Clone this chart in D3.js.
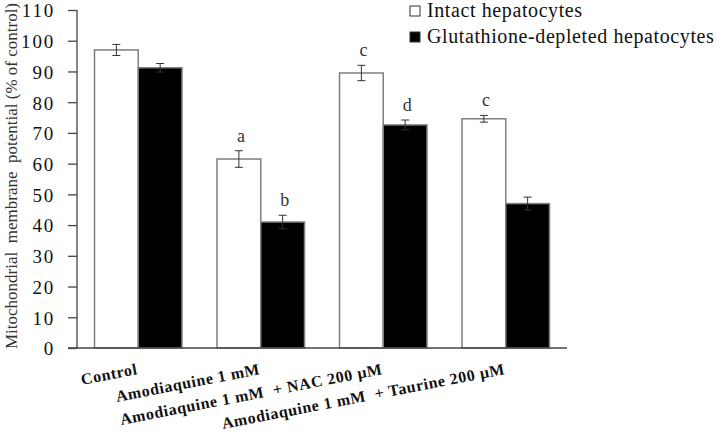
<!DOCTYPE html>
<html>
<head>
<meta charset="utf-8">
<script src="https://cdn.jsdelivr.net/npm/d3@7"></script>
<style>
body { margin: 0; background: #fff; }
</style>
</head>
<body>
<div id="chart"></div>
<script>
var categories = ["Control", "Amodiaquine 1 mM", "Amodiaquine 1 mM  + NAC 200 \u00b5M", "Amodiaquine 1 mM  + Taurine 200 \u00b5M"];
var seriesNames = ["Intact hepatocytes", "Glutathione-depleted hepatocytes"];
var intact = [97, 61.5, 89.5, 74.6];
var intactErr = [1.8, 2.7, 2.5, 1.1];
var depleted = [91.2, 41, 72.6, 47];
var depletedErr = [1.4, 2.2, 1.6, 2.1];
var intactLetters = ["", "a", "c", "c"];
var depletedLetters = ["", "b", "d", ""];
var yTicks = d3.range(0, 111, 10);

var width = 728, height = 435;
var margin = {left: 77, right: 161, top: 10, bottom: 87};
var serif = "'Liberation Serif', 'Times New Roman', Times, 'DejaVu Serif', serif";

var svg = d3.select("#chart")
	.append("svg")
	.attr("width", width)
	.attr("height", height)
	.style("font-family", serif);

var x = d3.scaleBand()
	.domain(categories)
	.range([margin.left, width - margin.right])
	.paddingInner(0)
	.paddingOuter(0);

var sub = d3.scaleBand()
	.domain([0, 1])
	.range([0, x.bandwidth()])
	.paddingInner(0)
	.paddingOuter(0.4);

var y = d3.scaleLinear()
	.domain([0, 110])
	.range([height - margin.bottom, margin.top]);

// bars
var data = [];
categories.forEach(function(c, i) {
	data.push({cat: c, s: 0, v: intact[i], e: intactErr[i], l: intactLetters[i]});
	data.push({cat: c, s: 1, v: depleted[i], e: depletedErr[i], l: depletedLetters[i]});
});

svg.append("g").selectAll("rect")
	.data(data)
	.enter().append("rect")
	.attr("x", function(d) { return x(d.cat) + sub(d.s); })
	.attr("y", function(d) { return y(d.v); })
	.attr("width", sub.bandwidth())
	.attr("height", function(d) { return y(0) - y(d.v); })
	.attr("fill", function(d) { return d.s === 0 ? "#fff" : "#000"; })
	.attr("stroke", "#7f7f7f")
	.attr("stroke-width", 1.5);

// error bars
var err = svg.append("g").attr("stroke", "#333").attr("stroke-width", 1);
data.forEach(function(d) {
	var cx = x(d.cat) + sub(d.s) + sub.bandwidth() / 2;
	err.append("line").attr("x1", cx).attr("x2", cx).attr("y1", y(d.v - d.e)).attr("y2", y(d.v + d.e));
	err.append("line").attr("x1", cx - 4).attr("x2", cx + 4).attr("y1", y(d.v - d.e)).attr("y2", y(d.v - d.e));
	err.append("line").attr("x1", cx - 4).attr("x2", cx + 4).attr("y1", y(d.v + d.e)).attr("y2", y(d.v + d.e));
	if (d.l) {
		svg.append("text")
			.attr("x", cx + 2)
			.attr("y", y(d.v + d.e) - 9)
			.attr("text-anchor", "middle")
			.style("font-family", serif)
			.style("font-size", "18px")
			.attr("fill", "#333")
			.text(d.l);
	}
});

// y axis
var yAxis = svg.append("g")
	.attr("transform", "translate(" + margin.left + ",0)")
	.call(d3.axisLeft(y).tickValues(yTicks).tickSize(9).tickPadding(13));
yAxis.attr("font-family", null);
yAxis.selectAll("path, line").attr("stroke", "#444").attr("stroke-width", 1.3);
yAxis.select(".domain").attr("d", "M0," + y(0) + "V" + y(110));
yAxis.selectAll("text")
	.style("font-family", serif)
	.style("font-size", "19px")
	.style("letter-spacing", "1.8px")
	.attr("dy", "0.36em")
	.attr("fill", "#111");

// x axis line
svg.append("line")
	.attr("x1", margin.left - 9).attr("x2", width - margin.right)
	.attr("y1", y(0)).attr("y2", y(0))
	.attr("stroke", "#444").attr("stroke-width", 1.3);

// x labels
svg.append("g").selectAll("text")
	.data(categories)
	.enter().append("text")
	.attr("transform", function(d) {
		return "translate(" + (x(d) + x.bandwidth() / 2) + "," + (y(0) + 26) + ") rotate(-11)";
	})
	.attr("text-anchor", "end")
	.style("font-family", serif)
	.style("white-space", "pre")
	.style("font-size", "16px")
	.style("letter-spacing", "0.6px")
	.style("font-weight", "bold")
	.attr("fill", "#111")
	.text(function(d) { return d; });

// y title
svg.append("text")
	.attr("transform", "translate(17," + (y(55) - 3) + ") rotate(-90)")
	.attr("text-anchor", "middle")
	.style("font-family", serif)
	.style("white-space", "pre")
	.style("font-size", "17px")
	.attr("fill", "#333")
	.text("Mitochondrial  membrane  potential (% of control)");

// legend
var legend = svg.append("g").attr("transform", "translate(410,0)");
seriesNames.forEach(function(n, i) {
	legend.append("rect")
		.attr("x", 0).attr("y", 6 + i * 26)
		.attr("width", 10).attr("height", 10)
		.attr("fill", i === 0 ? "#fff" : "#000")
		.attr("stroke", "#333").attr("stroke-width", 1);
	legend.append("text")
		.attr("x", 17).attr("y", 17 + i * 26)
		.style("font-family", serif)
		.style("font-size", "20px")
		.style("letter-spacing", "0.6px")
		.attr("fill", "#111")
		.text(n);
});
</script>
</body>
</html>
